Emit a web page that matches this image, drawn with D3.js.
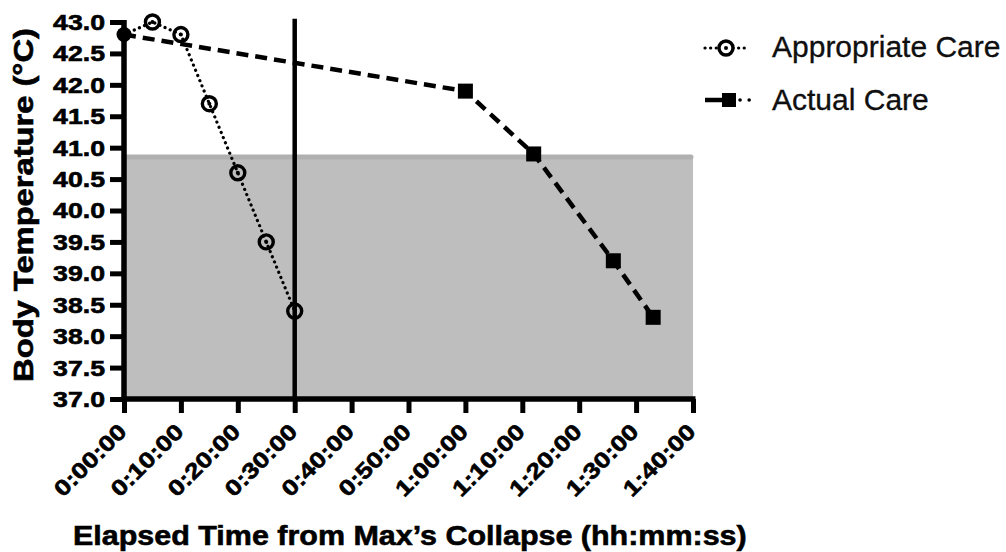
<!DOCTYPE html>
<html>
<head>
<meta charset="utf-8">
<script src="https://cdn.jsdelivr.net/npm/d3@7"></script>
<style>
  html, body { margin: 0; padding: 0; background: #fff; }
  svg { display: block; }
  text { font-family: "Liberation Sans", Arial, Helvetica, sans-serif; fill: #000; }
  text.heavy { stroke: #000; stroke-width: 0.6px; }
  text.lg { stroke: #000; stroke-width: 0.3px; fill: #111; }
</style>
</head>
<body>
<svg id="chart" width="1006" height="552"></svg>
<script>
// ---- data ----
const appropriateTime = [0, 5, 10, 15, 20, 25, 30];           // minutes
const appropriateTemp = [42.8, 43.0, 42.8, 41.7, 40.6, 39.5, 38.4];
const actualTime = [0, 60, 72, 86, 93];
const actualTemp = [42.8, 41.9, 40.9, 39.2, 38.3];
const xTickValues = [0, 10, 20, 30, 40, 50, 60, 70, 80, 90, 100];
const xTickLabels = ["0:00:00", "0:10:00", "0:20:00", "0:30:00", "0:40:00", "0:50:00",
                     "1:00:00", "1:10:00", "1:20:00", "1:30:00", "1:40:00"];
const yTickValues = [37.0, 37.5, 38.0, 38.5, 39.0, 39.5, 40.0, 40.5, 41.0, 41.5, 42.0, 42.5, 43.0];
const shadedBand = { from: 0, to: 100, low: 37.0, high: 40.85 };
const markerTime = 30;
const legendLabels = ["Appropriate Care", "Actual Care"];

// ---- layout ----
const svg = d3.select("#chart");
const x = d3.scaleLinear().domain([0, 100]).range([124, 693]);
const y = d3.scaleLinear().domain([37, 43]).range([399, 22]);

// shaded region
svg.append("rect")
  .attr("x", x(shadedBand.from)).attr("width", x(shadedBand.to) - x(shadedBand.from))
  .attr("y", y(shadedBand.high)).attr("height", y(shadedBand.low) - y(shadedBand.high))
  .attr("fill", "#bebebe");
svg.append("line")
  .attr("x1", x(shadedBand.from)).attr("x2", x(shadedBand.to) - 2)
  .attr("y1", y(shadedBand.high)).attr("y2", y(shadedBand.high))
  .attr("stroke", "#b0b0b0").attr("stroke-width", 5).attr("stroke-linecap", "round");

// vertical marker line
svg.append("line")
  .attr("x1", x(markerTime)).attr("x2", x(markerTime))
  .attr("y1", y(43.05)).attr("y2", y(37))
  .attr("stroke", "#000").attr("stroke-width", 4.5);

const line = d3.line().x(d => x(d[0])).y(d => y(d[1]));
const appData = appropriateTime.map((t, i) => [t, appropriateTemp[i]]);
const actData = actualTime.map((t, i) => [t, actualTemp[i]]);

// lines
svg.append("path").datum(actData).attr("d", line)
  .attr("fill", "none").attr("stroke", "#000").attr("stroke-width", 4.5)
  .attr("stroke-dasharray", "12 7");
svg.append("path").datum(appData).attr("d", line)
  .attr("fill", "none").attr("stroke", "#000").attr("stroke-width", 3.2)
  .attr("stroke-dasharray", "0.1 5.5").attr("stroke-linecap", "round");

// markers: actual (squares)
const sq = 15;
svg.selectAll("rect.act").data(actData.slice(1)).enter().append("rect")
  .attr("class", "act")
  .attr("x", d => x(d[0]) - sq / 2).attr("y", d => y(d[1]) - sq / 2)
  .attr("width", sq).attr("height", sq).attr("fill", "#000");

// markers: appropriate (open circles with center dot); first (shared start) drawn solid
appData.forEach((d, i) => {
  if (i === 0) {
    svg.append("circle").attr("cx", x(d[0])).attr("cy", y(d[1])).attr("r", 7.5).attr("fill", "#000");
  } else {
    svg.append("circle").attr("cx", x(d[0])).attr("cy", y(d[1])).attr("r", 7)
      .attr("fill", "none").attr("stroke", "#000").attr("stroke-width", 3.4);
    svg.append("circle").attr("cx", x(d[0])).attr("cy", y(d[1])).attr("r", 2).attr("fill", "#000");
  }
});

// ---- axes ----
const yAxis = svg.append("g").attr("transform", `translate(${x(0)},0)`)
  .call(d3.axisLeft(y).tickValues(yTickValues).tickSize(14).tickFormat(""));
const xAxis = svg.append("g").attr("transform", `translate(0,${y(37)})`)
  .call(d3.axisBottom(x).tickValues(xTickValues).tickSize(14).tickFormat(""));
[yAxis, xAxis].forEach(g => {
  g.select(".domain").attr("stroke", "#000").attr("stroke-width", 5.5);
  g.selectAll(".tick line").attr("stroke", "#000").attr("stroke-width", 5);
});
yAxis.select(".domain").attr("d", `M0,${y(43) - 2}V${y(37) + 2.5}`);
xAxis.select(".domain").attr("d", `M${x(0) - 2.5},0H${x(100) + 2.5}`);
xAxis.selectAll(".tick line").attr("y1", 0);
yAxis.selectAll(".tick line").attr("x1", 0);

// measure a tick label to get horizontal stretch
const probe = svg.append("text").attr("font-size", 22).attr("font-weight", "bold").text("40.0");
const k = 52 / probe.node().getComputedTextLength();
probe.remove();

// y tick labels
svg.selectAll("text.ytick").data(yTickValues).enter().append("text")
  .attr("class", "ytick heavy")
  .attr("transform", d => `translate(105,${y(d)}) scale(${k},1)`)
  .attr("dy", "0.36em").attr("text-anchor", "end")
  .attr("font-size", 22).attr("font-weight", "bold")
  .text(d => d.toFixed(1));

// x tick labels
svg.selectAll("text.xtick").data(xTickValues).enter().append("text")
  .attr("class", "xtick heavy")
  .attr("transform", d => `translate(${x(d) + 4},433) rotate(-45) scale(${k},1)`)
  .attr("text-anchor", "end")
  .attr("font-size", 22).attr("font-weight", "bold")
  .text((d, i) => xTickLabels[i]);

function fit(sel, target) {
  const w = sel.node().getComputedTextLength();
  return target / w;
}

// axis titles
const xt = svg.append("text").attr("class", "heavy").attr("font-size", 28).attr("font-weight", "bold")
  .text("Elapsed Time from Max\u2019s Collapse (hh:mm:ss)");
const kx = fit(xt, 674);
xt.attr("transform", `translate(73,545) scale(${kx},1)`);

const yt = svg.append("text").attr("class", "heavy").attr("font-size", 27).attr("font-weight", "bold")
  .attr("text-anchor", "middle")
  .text("Body Temperature (\u00B0C)");
const ky = fit(yt, 354);
yt.attr("transform", `translate(33,205) rotate(-90) scale(${ky},1)`);

// ---- legend ----
const lg = svg.append("g");
lg.append("line").attr("x1", 705).attr("x2", 749).attr("y1", 48).attr("y2", 48)
  .attr("stroke", "#000").attr("stroke-width", 3.2)
  .attr("stroke-dasharray", "0.1 5.5").attr("stroke-linecap", "round");
lg.append("circle").attr("cx", 726).attr("cy", 48).attr("r", 7)
  .attr("fill", "#fff").attr("stroke", "#000").attr("stroke-width", 3.4);
lg.append("circle").attr("cx", 726).attr("cy", 48).attr("r", 2).attr("fill", "#000");
lg.append("line").attr("x1", 705).attr("x2", 724).attr("y1", 100).attr("y2", 100)
  .attr("stroke", "#000").attr("stroke-width", 4.5);
lg.append("line").attr("x1", 740).attr("x2", 750).attr("y1", 100).attr("y2", 100)
  .attr("stroke", "#000").attr("stroke-width", 3.5)
  .attr("stroke-dasharray", "0.1 9").attr("stroke-linecap", "round");
lg.append("rect").attr("x", 722).attr("y", 93).attr("width", 14).attr("height", 14).attr("fill", "#000");

lg.selectAll("text.lg").data(legendLabels).enter().append("text")
  .attr("class", "lg")
  .attr("x", 772).attr("y", (d, i) => 57 + i * 53)
  .attr("font-size", 30)
  .text(d => d);
</script>
</body>
</html>
